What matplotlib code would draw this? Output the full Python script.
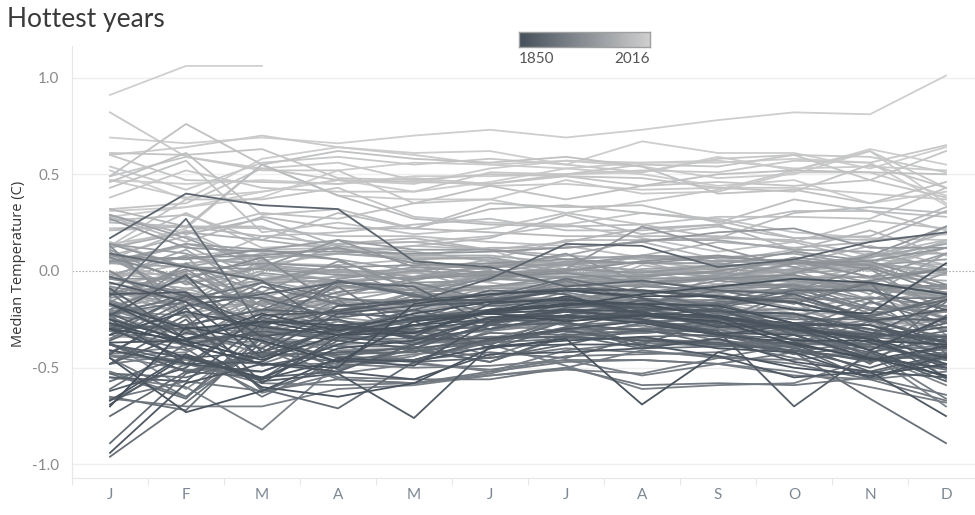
import numpy as np
import matplotlib
matplotlib.use("Agg")
import matplotlib.pyplot as plt
from matplotlib.colors import LinearSegmentedColormap

nan = float("nan")
months = ["J", "F", "M", "A", "M", "J", "J", "A", "S", "O", "N", "D"]
first_year = 1850
last_year = 2016

# Monthly anomalies (C), one row per year, read/
y1850s = [
    [-0.70, -0.29, -0.36, -0.47, -0.26, -0.22, -0.26, -0.23, -0.26, -0.38, -0.45, -0.54],
    [-0.30, -0.36, -0.46, -0.33, -0.28, -0.21, -0.18, -0.12, -0.08, -0.04, -0.06, -0.12],
    [-0.27, -0.38, -0.48, -0.50, -0.17, -0.12, -0.10, -0.13, -0.13, -0.20, -0.22, 0.04],
    [-0.17, -0.30, -0.26, -0.33, -0.32, -0.20, -0.17, -0.17, -0.24, -0.36, -0.36, -0.38],
    [-0.37, -0.36, -0.22, -0.31, -0.22, -0.16, -0.15, -0.17, -0.18, -0.27, -0.41, -0.24],
    [-0.17, -0.35, -0.26, -0.28, -0.32, -0.21, -0.13, -0.22, -0.23, -0.30, -0.35, -0.45],
    [-0.30, -0.45, -0.55, -0.40, -0.36, -0.24, -0.23, -0.27, -0.33, -0.37, -0.46, -0.39],
    [-0.25, -0.36, -0.60, -0.65, -0.58, -0.40, -0.35, -0.69, -0.42, -0.50, -0.54, -0.48],
    [-0.45, -0.73, -0.62, -0.45, -0.47, -0.39, -0.36, -0.34, -0.40, -0.42, -0.55, -0.44],
    [-0.33, -0.21, -0.29, -0.33, -0.24, -0.22, -0.20, -0.21, -0.29, -0.28, -0.37, -0.48],
]
y1860s = [
    [-0.41, -0.48, -0.52, -0.38, -0.28, -0.25, -0.24, -0.23, -0.24, -0.30, -0.41, -0.55],
    [-0.67, -0.43, -0.56, -0.46, -0.49, -0.26, -0.20, -0.25, -0.32, -0.33, -0.45, -0.50],
    [-0.94, -0.58, -0.48, -0.52, -0.56, -0.43, -0.42, -0.40, -0.35, -0.47, -0.52, -0.75],
    [-0.12, -0.11, -0.34, -0.28, -0.35, -0.35, -0.30, -0.26, -0.33, -0.28, -0.28, -0.40],
    [-0.69, -0.44, -0.57, -0.53, -0.76, -0.39, -0.38, -0.38, -0.44, -0.55, -0.52, -0.55],
    [-0.25, -0.48, -0.47, -0.28, -0.25, -0.22, -0.17, -0.19, -0.21, -0.22, -0.32, -0.36],
    [-0.06, -0.16, -0.45, -0.29, -0.34, -0.17, -0.14, -0.23, -0.24, -0.27, -0.28, -0.37],
    [-0.43, -0.19, -0.58, -0.34, -0.38, -0.24, -0.21, -0.23, -0.27, -0.29, -0.35, -0.50],
    [-0.62, -0.50, -0.23, -0.21, -0.15, -0.15, -0.10, -0.10, -0.14, -0.16, -0.26, -0.20],
    [-0.23, -0.02, -0.42, -0.30, -0.30, -0.26, -0.25, -0.20, -0.20, -0.31, -0.34, -0.29],
]
y1870s = [
    [-0.38, -0.45, -0.42, -0.22, -0.18, -0.16, -0.10, -0.14, -0.24, -0.31, -0.33, -0.55],
    [-0.55, -0.57, -0.27, -0.25, -0.35, -0.30, -0.23, -0.25, -0.31, -0.70, -0.42, -0.57],
    [-0.48, -0.32, -0.40, -0.18, -0.15, -0.12, -0.09, -0.10, -0.13, -0.16, -0.25, -0.37],
    [-0.22, -0.38, -0.31, -0.36, -0.40, -0.27, -0.21, -0.23, -0.28, -0.30, -0.33, -0.34],
    [-0.09, -0.35, -0.33, -0.47, -0.46, -0.35, -0.34, -0.36, -0.38, -0.41, -0.50, -0.38],
    [-0.38, -0.52, -0.55, -0.52, -0.38, -0.28, -0.27, -0.31, -0.34, -0.38, -0.52, -0.43],
    [-0.28, -0.30, -0.49, -0.42, -0.40, -0.36, -0.31, -0.36, -0.37, -0.41, -0.46, -0.43],
    [-0.30, -0.13, -0.28, -0.20, -0.16, -0.04, 0.14, 0.13, 0.02, 0.06, 0.15, 0.20],
    [0.17, 0.40, 0.34, 0.32, 0.05, 0.02, -0.08, -0.05, -0.10, -0.12, -0.25, -0.25],
    [-0.30, -0.28, -0.20, -0.22, -0.24, -0.20, -0.18, -0.18, -0.21, -0.22, -0.30, -0.37],
]
y1880s = [
    [-0.03, -0.13, -0.14, -0.24, -0.20, -0.30, -0.23, -0.15, -0.20, -0.33, -0.35, -0.27],
    [-0.36, -0.18, -0.12, -0.06, -0.08, -0.28, -0.16, -0.20, -0.25, -0.28, -0.33, -0.15],
    [0.09, 0.02, -0.05, -0.31, -0.26, -0.40, -0.29, -0.21, -0.17, -0.27, -0.30, -0.44],
    [-0.38, -0.48, -0.24, -0.32, -0.20, -0.10, -0.12, -0.25, -0.33, -0.35, -0.42, -0.35],
    [-0.48, -0.25, -0.61, -0.71, -0.47, -0.45, -0.38, -0.30, -0.32, -0.40, -0.47, -0.40],
    [-0.75, -0.52, -0.42, -0.47, -0.41, -0.47, -0.33, -0.31, -0.25, -0.27, -0.23, -0.15],
    [-0.53, -0.55, -0.44, -0.30, -0.31, -0.38, -0.26, -0.38, -0.25, -0.36, -0.38, -0.31],
    [-0.89, -0.53, -0.43, -0.43, -0.42, -0.36, -0.30, -0.39, -0.35, -0.43, -0.39, -0.46],
    [-0.57, -0.44, -0.56, -0.36, -0.32, -0.28, -0.19, -0.17, -0.18, -0.10, -0.10, -0.20],
    [-0.13, 0.27, -0.30, -0.05, -0.13, -0.18, -0.16, -0.22, -0.27, -0.28, -0.44, -0.51],
]
y1890s = [
    [-0.38, -0.52, -0.44, -0.42, -0.42, -0.32, -0.33, -0.40, -0.39, -0.39, -0.56, -0.45],
    [-0.53, -0.66, -0.28, -0.35, -0.24, -0.21, -0.21, -0.24, -0.19, -0.29, -0.48, -0.23],
    [-0.42, -0.23, -0.62, -0.49, -0.46, -0.42, -0.45, -0.34, -0.33, -0.42, -0.66, -0.89],
    [-0.96, -0.68, -0.37, -0.44, -0.46, -0.36, -0.30, -0.30, -0.38, -0.37, -0.39, -0.46],
    [-0.61, -0.38, -0.32, -0.51, -0.40, -0.47, -0.34, -0.36, -0.38, -0.35, -0.38, -0.34],
    [-0.65, -0.72, -0.33, -0.33, -0.37, -0.34, -0.34, -0.27, -0.24, -0.32, -0.34, -0.38],
    [-0.22, -0.16, -0.29, -0.35, -0.25, -0.13, -0.04, -0.11, -0.19, -0.12, -0.24, -0.13],
    [-0.29, -0.28, -0.20, -0.05, -0.12, -0.22, -0.15, -0.18, -0.22, -0.25, -0.25, -0.35],
    [-0.11, -0.40, -0.65, -0.46, -0.46, -0.37, -0.35, -0.35, -0.37, -0.45, -0.53, -0.44],
    [-0.23, -0.48, -0.56, -0.30, -0.34, -0.38, -0.23, -0.17, -0.10, -0.17, -0.06, -0.43],
]
y1900s = [
    [-0.35, -0.15, -0.06, -0.14, -0.18, -0.14, -0.16, -0.20, -0.16, -0.14, -0.24, -0.26],
    [-0.23, -0.28, -0.08, -0.17, -0.23, -0.22, -0.24, -0.26, -0.29, -0.33, -0.45, -0.33],
    [-0.23, -0.12, -0.35, -0.39, -0.39, -0.45, -0.40, -0.42, -0.44, -0.48, -0.56, -0.67],
    [-0.33, -0.12, -0.37, -0.55, -0.56, -0.56, -0.50, -0.59, -0.58, -0.59, -0.55, -0.64],
    [-0.66, -0.57, -0.62, -0.56, -0.58, -0.52, -0.47, -0.46, -0.48, -0.42, -0.36, -0.49],
    [-0.45, -0.65, -0.35, -0.45, -0.38, -0.34, -0.34, -0.32, -0.30, -0.40, -0.16, -0.27],
    [-0.31, -0.41, -0.26, -0.08, -0.32, -0.24, -0.28, -0.26, -0.33, -0.30, -0.44, -0.16],
    [-0.52, -0.65, -0.40, -0.56, -0.58, -0.53, -0.44, -0.43, -0.42, -0.33, -0.46, -0.42],
    [-0.48, -0.43, -0.63, -0.53, -0.48, -0.51, -0.46, -0.54, -0.48, -0.54, -0.56, -0.52],
    [-0.67, -0.48, -0.58, -0.59, -0.58, -0.54, -0.50, -0.41, -0.45, -0.46, -0.42, -0.66],
]
y1910s = [
    [-0.44, -0.46, -0.48, -0.48, -0.50, -0.49, -0.46, -0.46, -0.48, -0.52, -0.60, -0.68],
    [-0.66, -0.70, -0.70, -0.61, -0.59, -0.54, -0.51, -0.53, -0.45, -0.38, -0.38, -0.41],
    [-0.31, -0.38, -0.48, -0.35, -0.35, -0.38, -0.49, -0.61, -0.59, -0.58, -0.45, -0.45],
    [-0.44, -0.51, -0.52, -0.38, -0.47, -0.52, -0.41, -0.37, -0.39, -0.38, -0.26, -0.34],
    [-0.16, -0.29, -0.30, -0.35, -0.28, -0.30, -0.26, -0.14, -0.17, -0.09, -0.20, -0.18],
    [-0.20, -0.03, -0.21, -0.11, -0.06, -0.15, -0.05, -0.16, -0.20, -0.24, -0.14, -0.14],
    [-0.27, -0.31, -0.43, -0.35, -0.32, -0.44, -0.32, -0.28, -0.36, -0.39, -0.43, -0.59],
    [-0.55, -0.60, -0.82, -0.48, -0.43, -0.40, -0.24, -0.21, -0.30, -0.43, -0.43, -0.70],
    [-0.43, -0.39, -0.36, -0.50, -0.44, -0.31, -0.23, -0.26, -0.25, -0.11, -0.20, -0.31],
    [-0.15, -0.29, -0.32, -0.15, -0.37, -0.37, -0.29, -0.30, -0.25, -0.23, -0.40, -0.39],
]
y1920s = [
    [-0.10, -0.15, -0.11, -0.29, -0.31, -0.35, -0.26, -0.23, -0.20, -0.29, -0.32, -0.40],
    [-0.00, -0.23, -0.25, -0.31, -0.29, -0.20, -0.11, -0.18, -0.15, -0.07, -0.19, -0.21],
    [-0.41, -0.49, -0.20, -0.26, -0.34, -0.31, -0.27, -0.32, -0.29, -0.30, -0.16, -0.24],
    [-0.25, -0.36, -0.35, -0.41, -0.40, -0.28, -0.31, -0.32, -0.28, -0.12, -0.07, -0.11],
    [-0.24, -0.37, -0.15, -0.30, -0.20, -0.24, -0.27, -0.32, -0.30, -0.32, -0.25, -0.45],
    [-0.44, -0.42, -0.27, -0.21, -0.25, -0.27, -0.21, -0.17, -0.17, -0.16, -0.05, 0.01],
    [0.07, -0.04, 0.07, -0.18, -0.16, -0.15, -0.17, -0.08, -0.10, -0.11, -0.10, -0.25],
    [-0.21, -0.14, -0.33, -0.29, -0.26, -0.22, -0.15, -0.17, -0.08, -0.07, -0.15, -0.39],
    [-0.04, -0.11, -0.36, -0.26, -0.28, -0.30, -0.16, -0.15, -0.17, -0.15, -0.14, -0.18],
    [-0.37, -0.61, -0.34, -0.38, -0.36, -0.36, -0.30, -0.25, -0.22, -0.19, -0.24, -0.56],
]
y1930s = [
    [-0.21, -0.23, -0.06, -0.17, -0.21, -0.15, -0.14, -0.11, -0.10, -0.10, 0.02, -0.12],
    [-0.08, -0.15, -0.12, -0.22, -0.13, -0.03, -0.01, -0.06, -0.04, -0.02, -0.10, -0.07],
    [0.13, -0.23, -0.21, -0.07, -0.12, -0.16, -0.16, -0.12, -0.05, -0.08, -0.22, -0.15],
    [-0.20, -0.32, -0.27, -0.18, -0.21, -0.26, -0.21, -0.19, -0.26, -0.22, -0.36, -0.48],
    [-0.14, -0.05, -0.32, -0.24, -0.11, -0.14, -0.10, -0.07, -0.11, -0.10, -0.07, -0.08],
    [-0.26, 0.04, -0.18, -0.31, -0.25, -0.17, -0.15, -0.15, -0.15, -0.13, -0.27, -0.21],
    [-0.18, -0.35, -0.24, -0.15, -0.15, -0.13, -0.07, -0.11, -0.09, -0.08, -0.08, -0.09],
    [-0.12, 0.01, -0.22, -0.13, -0.04, -0.02, 0.00, 0.05, 0.08, 0.04, 0.05, -0.07],
    [0.08, 0.06, 0.11, 0.06, -0.10, -0.08, -0.03, -0.03, -0.00, 0.06, 0.01, -0.21],
    [-0.04, -0.04, -0.18, -0.08, -0.10, -0.04, -0.06, -0.05, -0.09, -0.01, 0.08, 0.23],
]
y1940s = [
    [-0.13, 0.00, 0.04, 0.02, 0.03, 0.04, 0.06, 0.04, 0.07, 0.05, -0.03, 0.01],
    [0.05, 0.07, 0.08, 0.12, 0.04, 0.01, 0.09, -0.06, -0.04, 0.04, 0.03, -0.09],
    [0.14, 0.02, 0.01, -0.02, -0.04, 0.00, -0.07, -0.08, -0.04, -0.05, -0.09, -0.13],
    [-0.16, 0.03, -0.11, 0.05, -0.06, -0.05, 0.01, -0.01, 0.03, 0.10, 0.05, 0.12],
    [0.27, 0.12, 0.10, 0.10, 0.09, 0.10, 0.12, 0.15, 0.20, 0.22, 0.12, 0.12],
    [0.11, -0.07, 0.02, 0.16, 0.02, -0.01, 0.01, 0.23, 0.12, 0.02, -0.06, -0.30],
    [0.08, 0.03, -0.05, 0.03, -0.14, -0.08, -0.05, -0.04, -0.03, -0.09, -0.05, -0.33],
    [-0.10, -0.18, -0.01, -0.05, -0.10, -0.02, -0.03, -0.06, -0.02, 0.07, 0.03, -0.09],
    [0.10, -0.18, -0.17, -0.04, 0.00, -0.02, -0.03, -0.02, -0.01, -0.04, -0.03, -0.15],
    [0.07, -0.15, -0.06, -0.05, -0.08, -0.15, -0.08, -0.04, -0.04, -0.04, -0.09, -0.15],
]
y1950s = [
    [-0.29, -0.30, -0.13, -0.21, -0.11, -0.09, -0.09, -0.16, -0.12, -0.19, -0.31, -0.20],
    [-0.33, -0.38, -0.17, -0.06, -0.03, 0.03, 0.03, 0.08, 0.05, 0.06, -0.03, 0.09],
    [0.14, 0.09, -0.05, 0.01, -0.03, -0.01, 0.05, 0.04, 0.04, -0.02, -0.15, -0.01],
    [0.05, 0.14, 0.11, 0.16, 0.11, 0.11, 0.06, 0.08, 0.07, 0.09, 0.03, 0.06],
    [-0.20, -0.01, -0.15, -0.16, -0.18, -0.15, -0.15, -0.11, -0.07, -0.07, -0.05, -0.19],
    [0.07, -0.12, -0.33, -0.22, -0.17, -0.14, -0.14, -0.05, -0.10, -0.16, -0.34, -0.33],
    [-0.21, -0.37, -0.32, -0.24, -0.28, -0.20, -0.19, -0.27, -0.23, -0.23, -0.32, -0.24],
    [-0.20, -0.11, -0.17, -0.04, 0.02, 0.02, 0.04, 0.07, 0.05, 0.04, 0.07, 0.14],
    [0.29, 0.17, 0.02, -0.01, 0.01, -0.05, 0.04, 0.00, -0.03, 0.01, 0.04, -0.01],
    [0.04, 0.02, 0.09, 0.06, 0.00, 0.04, 0.03, -0.02, -0.00, -0.06, -0.06, 0.01],
]
y1960s = [
    [-0.02, 0.08, -0.33, -0.16, -0.09, -0.02, -0.04, 0.01, 0.03, 0.00, -0.12, 0.09],
    [0.04, 0.14, 0.07, 0.09, 0.06, 0.07, -0.01, 0.00, 0.01, -0.01, 0.01, -0.08],
    [0.04, 0.07, 0.03, 0.00, -0.05, 0.03, -0.01, -0.03, 0.02, 0.04, 0.04, 0.00],
    [-0.03, 0.11, -0.12, -0.05, -0.03, 0.02, 0.08, 0.16, 0.16, 0.11, 0.10, 0.01],
    [-0.04, -0.09, -0.20, -0.29, -0.25, -0.18, -0.21, -0.29, -0.31, -0.32, -0.25, -0.30],
    [-0.12, -0.22, -0.16, -0.23, -0.13, -0.12, -0.16, -0.10, -0.11, -0.06, -0.17, -0.09],
    [-0.18, -0.09, -0.05, -0.12, -0.10, -0.01, 0.00, -0.07, -0.03, -0.11, -0.09, -0.12],
    [-0.10, -0.20, -0.05, -0.03, 0.00, -0.11, -0.06, -0.07, -0.03, 0.04, -0.09, -0.14],
    [-0.22, -0.18, 0.06, -0.16, -0.19, -0.08, -0.10, -0.11, -0.12, -0.03, -0.08, -0.14],
    [-0.09, -0.10, 0.00, 0.13, 0.10, 0.05, 0.04, 0.04, 0.04, 0.00, 0.09, 0.09],
]
y1970s = [
    [0.04, 0.13, -0.04, 0.00, -0.07, -0.08, -0.07, -0.08, -0.02, -0.09, -0.06, -0.12],
    [-0.09, -0.24, -0.23, -0.16, -0.17, -0.21, -0.15, -0.16, -0.20, -0.20, -0.13, -0.25],
    [-0.35, -0.29, -0.16, -0.09, -0.08, -0.03, -0.06, 0.05, -0.05, 0.01, 0.02, 0.12],
    [0.12, 0.20, 0.16, 0.11, 0.08, 0.08, 0.04, 0.00, -0.01, -0.03, -0.03, -0.05],
    [-0.27, -0.33, -0.21, -0.15, -0.20, -0.14, -0.16, -0.15, -0.15, -0.22, -0.22, -0.30],
    [-0.01, -0.06, -0.02, -0.07, -0.12, -0.14, -0.16, -0.23, -0.17, -0.23, -0.28, -0.26],
    [-0.18, -0.30, -0.39, -0.26, -0.33, -0.26, -0.19, -0.23, -0.16, -0.31, -0.20, -0.15],
    [-0.04, 0.04, 0.07, 0.09, 0.07, 0.07, 0.01, 0.05, 0.01, -0.01, 0.09, 0.00],
    [-0.01, -0.02, 0.01, -0.05, -0.08, -0.11, -0.12, -0.19, -0.02, -0.06, 0.03, -0.02],
    [-0.06, -0.14, 0.03, 0.00, -0.01, 0.06, -0.01, 0.08, 0.15, 0.12, 0.15, 0.31],
]
y1980s = [
    [0.08, 0.18, 0.05, 0.14, 0.15, 0.11, 0.08, 0.06, 0.08, 0.04, 0.13, 0.03],
    [0.29, 0.19, 0.27, 0.13, 0.08, 0.12, 0.12, 0.15, 0.06, 0.02, 0.07, 0.20],
    [-0.07, -0.01, -0.14, -0.02, -0.01, -0.04, 0.03, -0.04, 0.04, -0.00, 0.03, 0.23],
    [0.32, 0.23, 0.18, 0.14, 0.17, 0.11, 0.15, 0.22, 0.24, 0.11, 0.21, 0.08],
    [0.05, -0.06, 0.03, -0.11, 0.06, -0.13, -0.07, -0.00, 0.02, -0.03, -0.10, -0.24],
    [-0.03, -0.16, -0.04, -0.06, -0.01, -0.06, -0.11, 0.03, -0.02, 0.01, -0.04, -0.02],
    [0.05, 0.07, 0.04, 0.03, 0.06, 0.00, -0.02, -0.00, -0.03, 0.04, 0.06, 0.03],
    [0.06, 0.21, 0.03, 0.09, 0.13, 0.17, 0.29, 0.19, 0.23, 0.17, 0.18, 0.33],
    [0.28, 0.15, 0.28, 0.22, 0.22, 0.20, 0.18, 0.18, 0.18, 0.15, 0.05, 0.15],
    [-0.04, 0.08, 0.11, 0.12, 0.07, 0.06, 0.16, 0.16, 0.17, 0.16, 0.08, 0.16],
]
y1990s = [
    [0.21, 0.23, 0.55, 0.39, 0.27, 0.24, 0.23, 0.24, 0.17, 0.30, 0.33, 0.30],
    [0.26, 0.29, 0.16, 0.30, 0.22, 0.32, 0.34, 0.30, 0.26, 0.17, 0.16, 0.19],
    [0.25, 0.23, 0.23, 0.10, 0.13, 0.11, -0.02, -0.00, -0.07, 0.04, 0.00, 0.12],
    [0.22, 0.23, 0.22, 0.18, 0.18, 0.15, 0.13, 0.07, 0.05, 0.11, -0.00, 0.16],
    [0.15, 0.02, 0.18, 0.20, 0.24, 0.27, 0.21, 0.21, 0.24, 0.31, 0.31, 0.28],
    [0.46, 0.61, 0.29, 0.32, 0.22, 0.35, 0.33, 0.34, 0.25, 0.37, 0.31, 0.21],
    [0.12, 0.30, 0.12, 0.14, 0.15, 0.18, 0.24, 0.17, 0.10, 0.15, 0.26, 0.22],
    [0.14, 0.20, 0.30, 0.27, 0.35, 0.44, 0.37, 0.44, 0.50, 0.52, 0.51, 0.50],
    [0.49, 0.76, 0.55, 0.62, 0.58, 0.56, 0.59, 0.54, 0.40, 0.42, 0.35, 0.46],
    [0.43, 0.57, 0.20, 0.25, 0.19, 0.22, 0.30, 0.24, 0.28, 0.28, 0.27, 0.43],
]
y2000s = [
    [0.13, 0.37, 0.37, 0.43, 0.28, 0.25, 0.24, 0.30, 0.27, 0.20, 0.17, 0.16],
    [0.32, 0.35, 0.53, 0.47, 0.46, 0.45, 0.49, 0.48, 0.43, 0.41, 0.55, 0.43],
    [0.61, 0.60, 0.63, 0.48, 0.47, 0.50, 0.49, 0.44, 0.46, 0.44, 0.47, 0.38],
    [0.60, 0.47, 0.46, 0.45, 0.48, 0.45, 0.50, 0.55, 0.54, 0.60, 0.47, 0.62],
    [0.49, 0.59, 0.52, 0.52, 0.35, 0.37, 0.30, 0.36, 0.42, 0.52, 0.62, 0.43],
    [0.54, 0.42, 0.56, 0.59, 0.55, 0.58, 0.55, 0.51, 0.58, 0.60, 0.59, 0.51],
    [0.38, 0.52, 0.43, 0.41, 0.41, 0.51, 0.50, 0.52, 0.51, 0.57, 0.56, 0.65],
    [0.82, 0.59, 0.53, 0.56, 0.47, 0.44, 0.45, 0.42, 0.43, 0.43, 0.40, 0.37],
    [0.12, 0.22, 0.55, 0.39, 0.37, 0.37, 0.47, 0.40, 0.41, 0.51, 0.51, 0.39],
    [0.47, 0.38, 0.41, 0.47, 0.45, 0.53, 0.57, 0.56, 0.57, 0.53, 0.54, 0.52],
]
y2010s = [
    [0.60, 0.64, 0.70, 0.64, 0.60, 0.55, 0.57, 0.54, 0.48, 0.50, 0.62, 0.35],
    [0.28, 0.33, 0.41, 0.47, 0.41, 0.46, 0.53, 0.50, 0.44, 0.47, 0.35, 0.41],
    [0.31, 0.33, 0.38, 0.52, 0.56, 0.55, 0.53, 0.56, 0.56, 0.58, 0.56, 0.34],
    [0.47, 0.45, 0.47, 0.45, 0.49, 0.49, 0.50, 0.51, 0.59, 0.52, 0.63, 0.55],
    [0.52, 0.37, 0.58, 0.64, 0.61, 0.62, 0.55, 0.67, 0.61, 0.61, 0.53, 0.64],
    [0.69, 0.66, 0.69, 0.66, 0.70, 0.73, 0.69, 0.73, 0.78, 0.82, 0.81, 1.01],
    [0.91, 1.06, 1.06, nan, nan, nan, nan, nan, nan, nan, nan, nan],
]

decades = [y1850s, y1860s, y1870s, y1880s, y1890s, y1900s, y1910s, y1920s,
           y1930s, y1940s, y1950s, y1960s, y1970s, y1980s, y1990s, y2000s, y2010s]
rows = [r for d in decades for r in d]
years = list(range(first_year, first_year + len(rows)))

W, H = 975, 515
fig = plt.figure(figsize=(W / 100, H / 100), dpi=100)
plt.rcParams["font.family"] = ["Lato", "DejaVu Sans"]

ax = fig.add_axes([72 / W, 37 / H, (984 - 72) / W, 432 / H])
ax.set_xlim(-0.5, 11.5)
ax.set_ylim(-1.07, 1.163)

cmap = LinearSegmentedColormap.from_list("yr", ["#454f5a", "#cfcfcf"])
norm = plt.Normalize(first_year, last_year)

for yv in [1.0, 0.5, -0.5, -1.0]:
    ax.axhline(yv, color="#efefef", lw=1.0, zorder=0)
ax.axhline(0.0, color="#b0b0b0", lw=0.8, ls=(0, (1.5, 1.5)), zorder=0)

x = np.arange(12)
# newest drawn first so the older, darker lines sit on top
for yr, r in reversed(list(zip(years, rows))):
    ax.plot(x, r, color=cmap(norm(yr)), lw=1.3, zorder=2)

for s in ["top", "right"]:
    ax.spines[s].set_visible(False)
ax.spines["left"].set_color("#e6e6e6")
ax.spines["bottom"].set_color("#e6e6e6")

ax.set_xticks(np.arange(-0.5, 12, 1.0))
ax.set_xticklabels([])
ax.tick_params(axis="x", which="major", length=5, color="#e6e6e6")
ax.set_xticks(x, minor=True)
ax.set_xticklabels(months, minor=True)
ax.tick_params(axis="x", which="minor", length=0, pad=7, labelsize=11,
               labelcolor="#7d8894")

ax.set_yticks([1.0, 0.5, 0.0, -0.5, -1.0])
ax.set_yticklabels(["1.0", "0.5", "0.0", "-0.5", "-1.0"])
ax.tick_params(axis="y", length=0, pad=9, labelsize=11, labelcolor="#8a8a8a")

fig.text(7 / W, 1 - 19 / H, "Hottest years", fontsize=19, color="#3a3a3a",
         va="center", ha="left")
fig.text(19 / W, 1 - 264 / H, "Median Temperature (C)", rotation=90,
         fontsize=10.5, color="#333333", va="center", ha="center",
         family=["Open Sans", "DejaVu Sans"])

cax = fig.add_axes([519 / W, 1 - 47 / H, 131 / W, 15 / H])
grad = np.linspace(0, 1, 256).reshape(1, -1)
cax.imshow(grad, aspect="auto", cmap=cmap, extent=[0, 1, 0, 1])
cax.set_xticks([])
cax.set_yticks([])
for s in cax.spines.values():
    s.set_color("#a0a0a0")
    s.set_linewidth(1.0)
fig.text(519 / W, 1 - 59 / H, str(first_year), fontsize=11, color="#555555",
         ha="left", va="center")
fig.text(650 / W, 1 - 59 / H, str(last_year), fontsize=11, color="#555555",
         ha="right", va="center")

fig.savefig("out.png", dpi=100)
